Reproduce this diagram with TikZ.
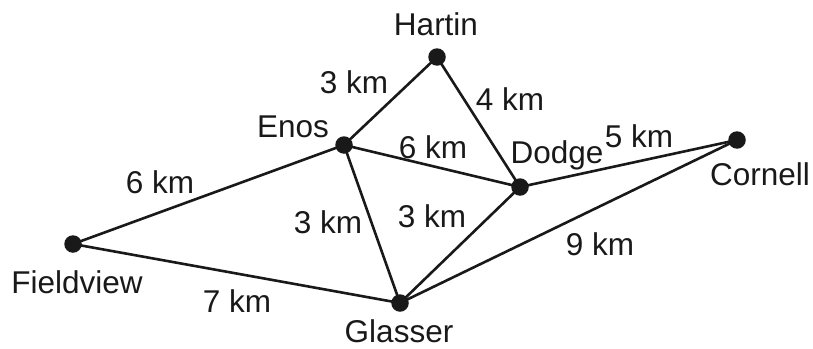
\documentclass[tikz,border=0pt]{standalone}
\usepackage{fontspec}
\setmainfont{Liberation Sans}
\begin{document}
\begin{tikzpicture}[x=1pt,y=-1pt,
  town/.style={circle,fill=black!90,inner sep=0pt,minimum size=17.5pt},
  lbl/.style={anchor=base,inner sep=0pt,font=\fontsize{31.5}{38}\selectfont,text=black!90},
  road/.style={line width=2.6pt,draw=black!90}]
\useasboundingbox (0,0) rectangle (813,348);
\coordinate (pH) at (437,57);
\coordinate (pE) at (344,145);
\coordinate (pD) at (520,187);
\coordinate (pC) at (737,140);
\coordinate (pF) at (73,244);
\coordinate (pG) at (400,303);
\draw[road] (pH) -- (pE);
\draw[road] (pH) -- (pD);
\draw[road] (pE) -- (pD);
\draw[road] (pD) -- (pC);
\draw[road] (pF) -- (pE);
\draw[road] (pE) -- (pG);
\draw[road] (pG) -- (pD);
\draw[road] (pG) -- (pC);
\draw[road] (pF) -- (pG);
\node[town] (H) at (pH) {};
\node[town] (E) at (pE) {};
\node[town] (D) at (pD) {};
\node[town] (C) at (pC) {};
\node[town] (F) at (pF) {};
\node[town] (G) at (pG) {};
\node[lbl] (tH) at (436,35) {Hartin};
\node[lbl] (tE) at (293,137) {Enos};
\node[lbl] (tD) at (557,163) {Dodge};
\node[lbl] (tC) at (760,185) {Cornell};
\node[lbl] (tF) at (77,293) {Fieldview};
\node[lbl] (tG) at (399,342) {Glasser};
\node[lbl] (dHE) at (354,93) {3 km};
\node[lbl] (dHD) at (510,110) {4 km};
\node[lbl] (dED) at (433,158) {6 km};
\node[lbl] (dDC) at (639,147) {5 km};
\node[lbl] (dFE) at (160,193) {6 km};
\node[lbl] (dEG) at (328,233) {3 km};
\node[lbl] (dGD) at (432,227) {3 km};
\node[lbl] (dGC) at (600,255) {9 km};
\node[lbl] (dFG) at (237,312) {7 km};
\end{tikzpicture}
\end{document}
